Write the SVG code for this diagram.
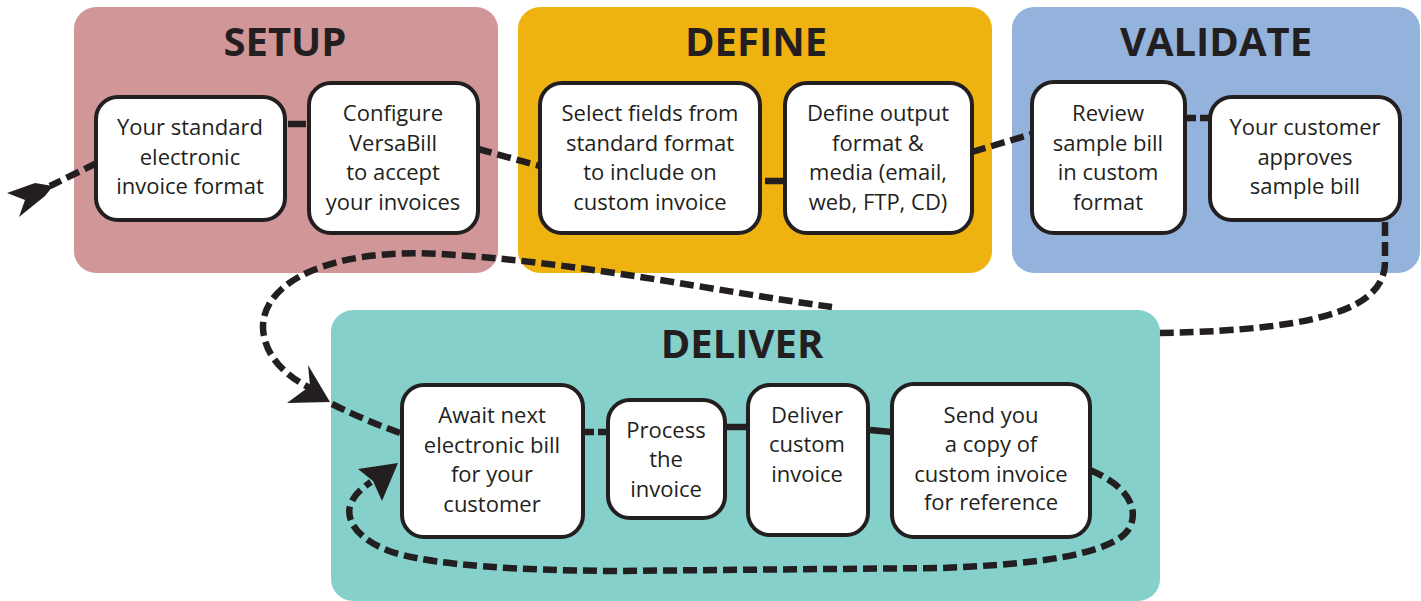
<svg xmlns="http://www.w3.org/2000/svg" width="1421" height="601" viewBox="0 0 1421 601">
<style>
.title{font-family:"Open Sans","Liberation Sans",sans-serif;font-weight:700;font-size:40px;fill:#231f20;text-anchor:middle}
.t{font-family:"Open Sans","Liberation Sans",sans-serif;font-size:22px;fill:#231f20;text-anchor:middle}
.box{fill:#ffffff;stroke:#231f20;stroke-width:4}
.dash{fill:none;stroke:#231f20;stroke-width:6.5;stroke-dasharray:14 6}
.bar{fill:none;stroke:#231f20;stroke-width:6.5}
.head{fill:#231f20}
</style>
<rect width="1421" height="601" fill="#ffffff"/>
<g id="panel-setup">
<rect x="74" y="7" width="424" height="266" rx="22" fill="#d19698"/>
<text class="title" x="285" y="56">SETUP</text>
</g>
<g id="panel-define">
<rect x="518" y="7" width="474" height="266" rx="22" fill="#eeb311"/>
<text class="title" x="756" y="56">DEFINE</text>
</g>
<g id="panel-validate">
<rect x="1012" y="7" width="408" height="266" rx="22" fill="#94b3dc"/>
<text class="title" x="1216" y="56">VALIDATE</text>
</g>
<g id="panel-deliver">
<rect x="331" y="310" width="829" height="291" rx="22" fill="#86d0cb"/>
<text class="title" x="742" y="358">DELIVER</text>
</g>
<g id="connectors">
<path class="dash" d="M 97 163 L 50 186"/>
<polygon class="head" points="7,193 35,183 53,186 45,196 19,217 25,200"/>
<path class="bar" d="M 288 124 L 306 124"/>
<path class="dash" d="M 478 149 L 540 166"/>
<path class="bar" d="M 765 181 L 785 181"/>
<path class="dash" d="M 972 152 L 1032 134"/>
<path class="dash" d="M 1186 118 L 1210 118" style="stroke-dasharray:10 4"/>
<path class="dash" d="M 1385 222 L 1385 262 C 1385 305 1330 330 1160 333"/>
<path class="dash" d="M 832 307 C 720 292 580 262 440 254 C 330 248 262 282 263 328 C 264 355 285 376 312 389"/>
<polygon class="head" points="330,402 308,365 310,386 287,403"/>
<path class="dash" d="M 332 404 Q 366 421 403 434"/>
<path class="dash" d="M 584 432 L 609 432" style="stroke-dasharray:10 4"/>
<path class="bar" d="M 725 427 L 749 427"/>
<path class="bar" d="M 870 430 L 892 432"/>
<path class="dash" d="M 1090 470 C 1125 485 1138 505 1131 525 C 1120 552 1050 564 940 568 L 610 571 C 520 570 440 566 395 553 C 358 541 344 520 351 503 C 355 494 362 488 371 482"/>
<polygon class="head" points="398,463 358,469 373,481 382,501"/>
</g>
<g id="node-standard-format">
<rect class="box" x="96" y="97" width="189" height="123" rx="22"/>
<text class="t" x="190"><tspan x="190" y="135">Your standard</tspan><tspan x="190" y="165">electronic</tspan><tspan x="190" y="194">invoice format</tspan></text>
</g>
<g id="node-configure">
<rect class="box" x="309" y="83" width="169" height="150" rx="22"/>
<text class="t"><tspan x="393" y="121">Configure</tspan><tspan x="393" y="150.5">VersaBill</tspan><tspan x="393" y="180">to accept</tspan><tspan x="393" y="209.5">your invoices</tspan></text>
</g>
<g id="node-select-fields">
<rect class="box" x="540" y="83" width="220" height="150" rx="22"/>
<text class="t"><tspan x="650" y="121">Select fields from</tspan><tspan x="650" y="150.5">standard format</tspan><tspan x="650" y="180">to include on</tspan><tspan x="650" y="209.5">custom invoice</tspan></text>
</g>
<g id="node-define-output">
<rect class="box" x="785" y="83" width="187" height="150" rx="22"/>
<text class="t"><tspan x="878" y="121">Define output</tspan><tspan x="878" y="150.5">format &amp;</tspan><tspan x="878" y="180">media (email,</tspan><tspan x="878" y="209.5">web, FTP, CD)</tspan></text>
</g>
<g id="node-review">
<rect class="box" x="1032" y="82" width="153" height="151" rx="22"/>
<text class="t"><tspan x="1108" y="121">Review</tspan><tspan x="1108" y="150.5">sample bill</tspan><tspan x="1108" y="180">in custom</tspan><tspan x="1108" y="209.5">format</tspan></text>
</g>
<g id="node-approves">
<rect class="box" x="1210" y="97" width="190" height="123" rx="22"/>
<text class="t"><tspan x="1305" y="135">Your customer</tspan><tspan x="1305" y="165">approves</tspan><tspan x="1305" y="194">sample bill</tspan></text>
</g>
<g id="node-await">
<rect class="box" x="402" y="385" width="181" height="152" rx="22"/>
<text class="t"><tspan x="492" y="423">Await next</tspan><tspan x="492" y="453">electronic bill</tspan><tspan x="492" y="482">for your</tspan><tspan x="492" y="512">customer</tspan></text>
</g>
<g id="node-process">
<rect class="box" x="608" y="400" width="117" height="118" rx="22"/>
<text class="t"><tspan x="666" y="438">Process</tspan><tspan x="666" y="467">the</tspan><tspan x="666" y="497">invoice</tspan></text>
</g>
<g id="node-deliver">
<rect class="box" x="748" y="385" width="120" height="150" rx="22"/>
<text class="t"><tspan x="807" y="423">Deliver</tspan><tspan x="807" y="452">custom</tspan><tspan x="807" y="482">invoice</tspan></text>
</g>
<g id="node-send-copy">
<rect class="box" x="892" y="384" width="198" height="153" rx="22"/>
<text class="t"><tspan x="991" y="423">Send you</tspan><tspan x="991" y="452">a copy of</tspan><tspan x="991" y="482">custom invoice</tspan><tspan x="991" y="510">for reference</tspan></text>
</g>
</svg>
